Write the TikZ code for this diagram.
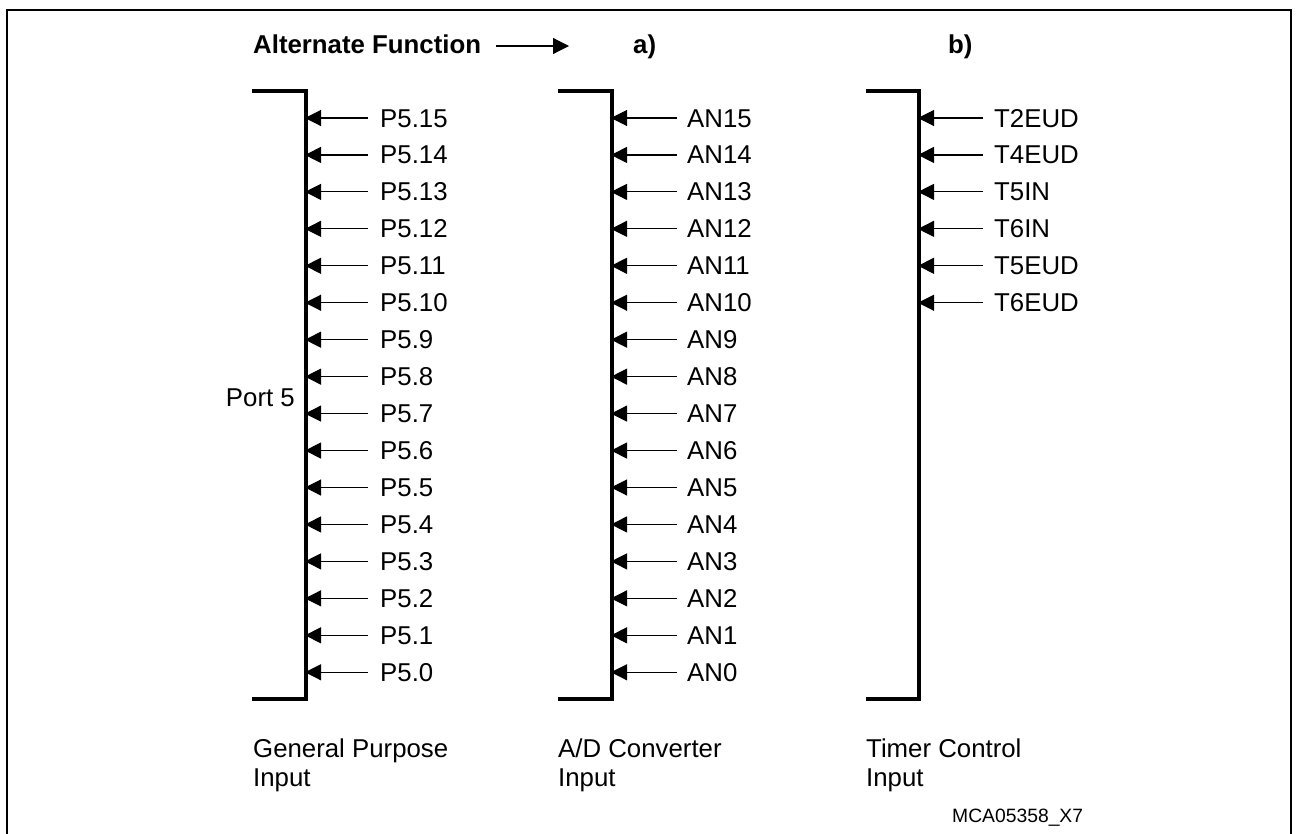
\documentclass[tikz,border=0pt]{standalone}
\usepackage{fontspec}
\setmainfont{Liberation Sans}
\usetikzlibrary{arrows.meta}
\begin{document}
\begin{tikzpicture}[x=1pt,y=-1pt,
  bracketline/.style={line width=3.3pt,line cap=butt,line join=miter},
  pinarrow/.style={line width=1.1pt,-{Triangle[length=16pt,width=16pt]},shorten >=-1pt},
  pinlabel/.style={anchor=base west,inner sep=0pt,font=\fontsize{25.8}{29}\selectfont},
  biglabel/.style={anchor=base west,inner sep=0pt,align=left,font=\fontsize{25.8}{28.5}\selectfont},
  framebox/.style={line width=2pt}]
\useasboundingbox (0,0) rectangle (1298,833);
\draw[framebox] (7,845) -- (7,10) -- (1291,10) -- (1291,845);
% header
\node[biglabel,font=\bfseries\fontsize{25.8}{29}\selectfont] (alt) at (253,53) {Alternate Function};
\coordinate (altS) at (496,46);
\coordinate (altE) at (568,46);
\draw[pinarrow,line width=1.2pt] (altS) -- (altE);
\node[biglabel,font=\bfseries\fontsize{25.8}{29}\selectfont] (ha) at (633,53) {a)};
\node[biglabel,font=\bfseries\fontsize{25.8}{29}\selectfont] (hb) at (948,53) {b)};
% brackets
\foreach \n/\bx/\vx in {A/252/306,B/558/612,C/866/919}{
  \coordinate (\n tl) at (\bx,91);
  \coordinate (\n tr) at (\vx,91);
  \coordinate (\n br) at (\vx,699);
  \coordinate (\n bl) at (\bx,699);
  \draw[bracketline] (\n tl) -- (\n tr) -- (\n br) -- (\n bl);
}
% column 1
\foreach \lab [count=\k from 0] in {P5.15,P5.14,P5.13,P5.12,P5.11,P5.10,P5.9,P5.8,P5.7,P5.6,P5.5,P5.4,P5.3,P5.2,P5.1,P5.0}{
  \pgfmathsetmacro{\yy}{118+36.95*\k}
  \coordinate (As\k) at (368,\yy);
  \coordinate (Ae\k) at (306,\yy);
  \node[pinlabel] (Al\k) at (380,\yy+9) {\lab};
  \draw[pinarrow] (As\k) -- (Ae\k);
}
% column 2
\foreach \lab [count=\k from 0] in {AN15,AN14,AN13,AN12,AN11,AN10,AN9,AN8,AN7,AN6,AN5,AN4,AN3,AN2,AN1,AN0}{
  \pgfmathsetmacro{\yy}{118+36.95*\k}
  \coordinate (Bs\k) at (677,\yy);
  \coordinate (Be\k) at (612,\yy);
  \node[pinlabel] (Bl\k) at (687,\yy+9) {\lab};
  \draw[pinarrow] (Bs\k) -- (Be\k);
}
% column 3
\foreach \lab [count=\k from 0] in {T2EUD,T4EUD,T5IN,T6IN,T5EUD,T6EUD}{
  \pgfmathsetmacro{\yy}{118+36.95*\k}
  \coordinate (Cs\k) at (983,\yy);
  \coordinate (Ce\k) at (919,\yy);
  \node[pinlabel] (Cl\k) at (994,\yy+9) {\lab};
  \draw[pinarrow] (Cs\k) -- (Ce\k);
}
\node[pinlabel,anchor=base east] (port) at (295,406) {Port 5};
% bottom labels
\node[biglabel] (gp) at (253,786) {General Purpose\\Input};
\node[biglabel] (ad) at (558,786) {A/D Converter\\Input};
\node[biglabel] (tc) at (866,786) {Timer Control\\Input};
\node[anchor=base west,inner sep=0pt,font=\fontsize{19.3}{22}\selectfont] (id) at (952,822) {MCA05358\_X7};
\end{tikzpicture}
\end{document}
